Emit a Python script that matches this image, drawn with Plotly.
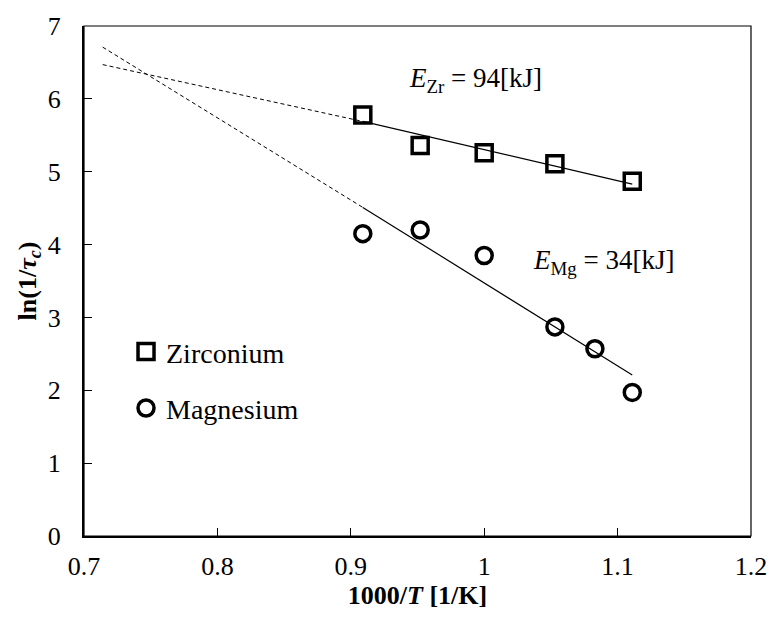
import plotly.graph_objects as go

# Data
x_zr = [0.909, 0.952, 1.000, 1.053, 1.111]
y_zr = [5.78, 5.36, 5.26, 5.11, 4.87]
x_mg = [0.909, 0.952, 1.000, 1.053, 1.083, 1.111]
y_mg = [4.15, 4.20, 3.85, 2.87, 2.57, 1.97]

# Fit lines (solid within data, dashed extrapolation)
zr_fit_x = [0.909, 1.111]
zr_fit_y = [5.69, 4.83]
zr_ext_x = [0.714, 0.909]
zr_ext_y = [6.47, 5.69]
mg_fit_x = [0.909, 1.111]
mg_fit_y = [4.51, 2.21]
mg_ext_x = [0.714, 0.909]
mg_ext_y = [6.71, 4.51]

FONT = "Liberation Serif, Times New Roman, serif"

fig = go.Figure()
fig.add_trace(go.Scatter(x=zr_ext_x, y=zr_ext_y, mode="lines", showlegend=False,
                         line=dict(color="black", width=1, dash="4px,3px")))
fig.add_trace(go.Scatter(x=mg_ext_x, y=mg_ext_y, mode="lines", showlegend=False,
                         line=dict(color="black", width=1, dash="4px,3px")))
fig.add_trace(go.Scatter(x=zr_fit_x, y=zr_fit_y, mode="lines", showlegend=False,
                         line=dict(color="black", width=1.2)))
fig.add_trace(go.Scatter(x=mg_fit_x, y=mg_fit_y, mode="lines", showlegend=False,
                         line=dict(color="black", width=1.2)))
fig.add_trace(go.Scatter(x=x_zr, y=y_zr, mode="markers", name="Zirconium", legendgroup="zr",
                         marker=dict(symbol="square-open", size=16, color="black",
                                     line=dict(width=3.5, color="black"))))
fig.add_trace(go.Scatter(x=x_mg, y=y_mg, mode="markers", name="Magnesium", legendgroup="mg",
                         marker=dict(symbol="circle-open", size=16, color="black",
                                     line=dict(width=3.5, color="black"))))

fig.add_annotation(x=0.942, y=6.26, xanchor="left", yanchor="middle", showarrow=False,
                   text="<i>E</i><sub>Zr</sub> = 94[kJ]", font=dict(family=FONT, size=27, color="black"))
fig.add_annotation(x=1.035, y=3.76, xanchor="left", yanchor="middle", showarrow=False,
                   text="<i>E</i><sub>Mg</sub> = 34[kJ]", font=dict(family=FONT, size=27, color="black"))

fig.add_shape(type="rect", xref="paper", yref="paper", x0=0, y0=0, x1=1, y1=1,
              line=dict(color="black", width=1.2), layer="above")

fig.update_layout(
    width=779, height=628,
    margin=dict(l=84, r=22, t=20, b=92),
    paper_bgcolor="white", plot_bgcolor="white",
    font=dict(family=FONT, size=26, color="black"),
    legend=dict(x=0.063, y=0.41, xanchor="left", yanchor="top",
                traceorder="grouped", tracegroupgap=17,
                font=dict(family=FONT, size=28, color="black"),
                bgcolor="rgba(0,0,0,0)", itemwidth=30),
    xaxis=dict(range=[0.7, 1.2], tickvals=[0.7, 0.8, 0.9, 1.0, 1.1, 1.2],
               ticktext=["0.7", "0.8", "0.9", "1", "1.1", "1.2"],
               ticks="inside", ticklen=8, tickwidth=1.2, tickcolor="black",
               showline=True, linewidth=2, linecolor="black", showgrid=False, zeroline=False,
               ticklabelstandoff=6,
               tickfont=dict(family=FONT, size=26),
               title=dict(text="<b>1000/<i>T</i> [1/K]</b>", standoff=4,
                          font=dict(family=FONT, size=26))),
    yaxis=dict(range=[0, 7], tickvals=[0, 1, 2, 3, 4, 5, 6, 7],
               ticks="inside", ticklen=8, tickwidth=1.2, tickcolor="black",
               showline=True, linewidth=2, linecolor="black", showgrid=False, zeroline=False,
               ticklabelstandoff=16,
               tickfont=dict(family=FONT, size=26),
               title=dict(text="<b>ln(1/<i>τ</i><sub><i>c</i></sub>)</b>", standoff=4,
                          font=dict(family=FONT, size=26))),
)

fig.write_html("out.html")
